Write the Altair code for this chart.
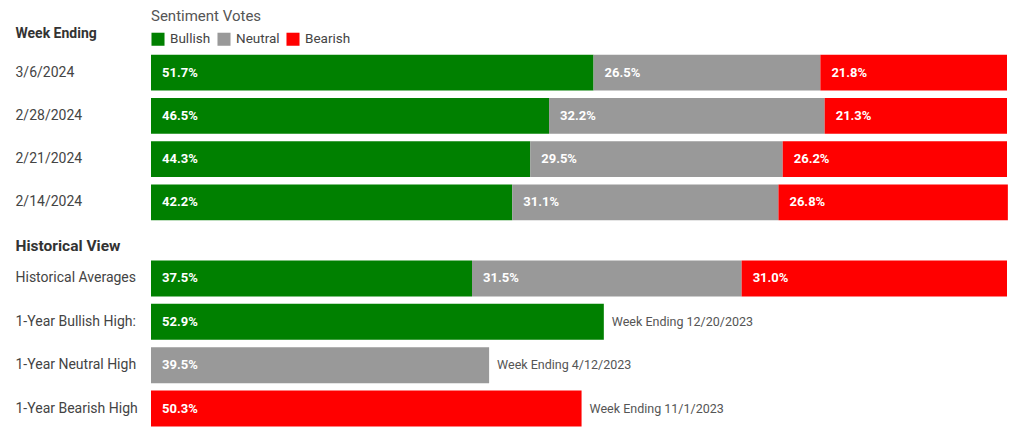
import altair as alt
import pandas as pd

FONT = "Roboto"

sentiments = ["Bullish", "Neutral", "Bearish"]
colors = ["#008000", "#999999", "#ff0000"]

weeks = ["3/6/2024", "2/28/2024", "2/21/2024", "2/14/2024"]
bullish = [51.7, 46.5, 44.3, 42.2]
neutral = [26.5, 32.2, 29.5, 31.1]
bearish = [21.8, 21.3, 26.2, 26.8]

hist_rows = ["Historical Averages", "1-Year Bullish High:", "1-Year Neutral High", "1-Year Bearish High"]
avg_values = [37.5, 31.5, 31.0]
high_sentiments = ["Bullish", "Neutral", "Bearish"]
high_values = [52.9, 39.5, 50.3]
high_notes = ["Week Ending 12/20/2023", "Week Ending 4/12/2023", "Week Ending 11/1/2023"]

# ---- tables built from the lists above ----
weekly_records = []
for i, w in enumerate(weeks):
    for j, (s, vals) in enumerate(zip(sentiments, [bullish, neutral, bearish])):
        weekly_records.append({"row": w, "sentiment": s, "value": vals[i], "order": j, "note": ""})
weekly_df = pd.DataFrame(weekly_records)

hist_records = []
for j, s in enumerate(sentiments):
    hist_records.append({"row": hist_rows[0], "sentiment": s, "value": avg_values[j], "order": j, "note": ""})
for k, (s, v, n) in enumerate(zip(high_sentiments, high_values, high_notes)):
    hist_records.append({"row": hist_rows[k + 1], "sentiment": s, "value": v, "order": 0, "note": n})
hist_df = pd.DataFrame(hist_records)

x_scale = alt.Scale(domain=[0, 100], nice=False, zero=True)
color_scale = alt.Scale(domain=sentiments, range=colors)


def panel(df, rows, title, title_y, title_size, legend, height, outer):
    y = alt.Y(
        "row:N",
        sort=rows,
        title=title,
        scale=alt.Scale(paddingInner=0.17, paddingOuter=outer),
        axis=alt.Axis(
            titleAngle=0, titleAlign="left", titleBaseline="middle",
            titleX=-136, titleY=title_y, titleFontWeight="bold",
            titleFontSize=title_size, titleColor="#333", titleFont=FONT,
            labelAlign="left", labelPadding=136, labelFontSize=14,
            labelColor="#444", labelFont=FONT, ticks=False, tickSize=0,
            domain=False,
        ),
    )
    base = alt.Chart(df).transform_stack(
        stack="value", groupby=["row"], as_=["x0", "x1"],
        sort=[alt.SortField("order", order="ascending")],
    ).transform_calculate(
        label="format(datum.value, '.1f') + '%'"
    )
    bars = base.mark_bar().encode(
        x=alt.X("x0:Q", scale=x_scale, axis=None),
        x2="x1:Q",
        y=y,
        color=alt.Color("sentiment:N", scale=color_scale, legend=legend),
    )
    labels = base.mark_text(
        align="left", baseline="middle", dx=11, color="white",
        fontWeight="bold", fontSize=13, font=FONT,
    ).encode(
        x=alt.X("x0:Q", scale=x_scale, axis=None),
        y=y,
        text="label:N",
    )
    notes = base.mark_text(
        align="left", baseline="middle", dx=8, color="#555",
        fontSize=12.5, font=FONT,
    ).encode(
        x=alt.X("x1:Q", scale=x_scale, axis=None),
        y=y,
        text="note:N",
    )
    return alt.layer(bars, labels, notes).properties(width=856, height=height)


legend = alt.Legend(
    orient="top", direction="horizontal", title="Sentiment Votes",
    titleFontSize=15, titleFontWeight="normal", titleColor="#555", titleFont=FONT,
    labelFontSize=13.5, labelColor="#444", labelFont=FONT,
    symbolType="square", symbolSize=170, symbolStrokeWidth=0,
    columnPadding=6, labelOffset=5, titlePadding=8, offset=5,
)

top = panel(weekly_df, weeks, "Week Ending", -18, 14, legend, 173, 0.085)
bottom = panel(hist_df, hist_rows, "Historical View", -15.5, 15.5, None, 166, 0)

chart = alt.vconcat(top, bottom, spacing=13.5).resolve_legend(
    color="independent"
).properties(
    padding={"left": 7, "top": 1, "right": 0, "bottom": 0}
).configure_view(stroke=None)

chart.save("out.html", embed_options={"renderer": "svg", "actions": False})
